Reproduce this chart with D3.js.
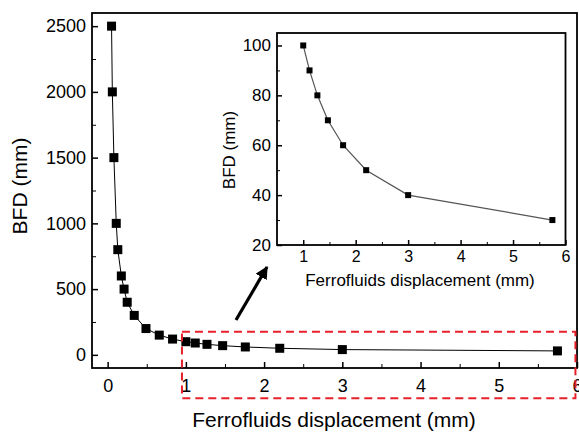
<!DOCTYPE html>
<html>
<head>
<meta charset="utf-8">
<script src="https://cdn.jsdelivr.net/npm/d3@7"></script>
<style>
  body { margin: 0; background: #fff; }
  svg { display: block; font-family: "Liberation Sans", Arial, sans-serif; }
</style>
</head>
<body>
<div id="chart"></div>
<script>
// main curve: ferrofluids displacement (mm) vs BFD (mm)
let displacement = [0.05, 0.06, 0.08, 0.11, 0.13, 0.175, 0.21, 0.25, 0.34, 0.49, 0.66, 0.83, 1.0, 1.12, 1.27, 1.47, 1.76, 2.2, 3.0, 5.75];
let bfd = [2500, 2000, 1500, 1000, 800, 600, 500, 400, 300, 200, 150, 120, 100, 90, 80, 70, 60, 50, 40, 30];

// inset: zoom on the tail
let insetDisp = [1.0, 1.12, 1.27, 1.47, 1.76, 2.2, 3.0, 5.75];
let insetBfd = [100, 90, 80, 70, 60, 50, 40, 30];

let mainXTicks = [0, 1, 2, 3, 4, 5, 6];
let mainYTicks = [0, 500, 1000, 1500, 2000, 2500];
let insetXTicks = [1, 2, 3, 4, 5, 6];
let insetYTicks = [20, 40, 60, 80, 100];

let width = 579, height = 432;

const svg = d3.select("#chart").append("svg")
    .attr("width", width)
    .attr("height", height);

// scales
let x = d3.scaleLinear().domain([-0.2, 6.0]).range([92, 577]);
let y = d3.scaleLinear().domain([-100, 2600]).range([368, 13]);
let xi = d3.scaleLinear().domain([0.5, 6]).range([277, 565.5]);
let yi = d3.scaleLinear().domain([20, 105]).range([245, 33]);

// --- main plot ---
svg.append("rect")
    .attr("x", x.range()[0]).attr("y", y.range()[1])
    .attr("width", x.range()[1] - x.range()[0])
    .attr("height", y.range()[0] - y.range()[1])
    .attr("fill", "none").attr("stroke", "#000").attr("stroke-width", 1.8);

// minor ticks first, then major ticks with labels
svg.append("g")
    .attr("transform", `translate(0,${y.range()[0]})`)
    .call(d3.axisTop(x).tickValues(d3.range(0.5, 6, 1)).tickSize(4).tickFormat(""))
    .call(g => g.select(".domain").remove());
svg.append("g")
    .attr("transform", `translate(${x.range()[0]},0)`)
    .call(d3.axisRight(y).tickValues(d3.range(250, 2600, 500)).tickSize(4).tickFormat(""))
    .call(g => g.select(".domain").remove());

const gx = svg.append("g")
    .attr("transform", `translate(0,${y.range()[0]})`)
    .call(d3.axisBottom(x).tickValues(mainXTicks).tickSize(0).tickPadding(11).tickFormat(d3.format("d")));
gx.select(".domain").remove();
gx.selectAll("text").attr("font-size", 18).attr("font-family", null).attr("fill", "#000");
svg.append("g")
    .attr("transform", `translate(0,${y.range()[0]})`)
    .call(d3.axisTop(x).tickValues(mainXTicks).tickSize(6).tickFormat(""))
    .call(g => g.select(".domain").remove())
    .selectAll("line").attr("stroke-width", 1.5);

const gy = svg.append("g")
    .attr("transform", `translate(${x.range()[0]},0)`)
    .call(d3.axisLeft(y).tickValues(mainYTicks).tickSize(0).tickPadding(6).tickFormat(d3.format("d")));
gy.select(".domain").remove();
gy.selectAll("text").attr("font-size", 18).attr("font-family", null).attr("fill", "#000");
svg.append("g")
    .attr("transform", `translate(${x.range()[0]},0)`)
    .call(d3.axisRight(y).tickValues(mainYTicks).tickSize(6).tickFormat(""))
    .call(g => g.select(".domain").remove())
    .selectAll("line").attr("stroke-width", 1.5);

let mainPts = displacement.map((d, i) => [d, bfd[i]]);

svg.append("path")
    .datum(mainPts)
    .attr("fill", "none")
    .attr("stroke", "#000")
    .attr("stroke-width", 1)
    .attr("d", d3.line().x(d => x(d[0])).y(d => y(d[1])));

svg.append("g").selectAll("rect")
    .data(mainPts)
    .join("rect")
    .attr("x", d => x(d[0]) - 4.5)
    .attr("y", d => y(d[1]) - 4.5)
    .attr("width", 9).attr("height", 9)
    .attr("fill", "#000");

svg.append("text")
    .attr("x", 334).attr("y", 427)
    .attr("text-anchor", "middle")
    .attr("font-size", 21)
    .text("Ferrofluids displacement (mm)");

svg.append("text")
    .attr("transform", "translate(27,186) rotate(-90)")
    .attr("text-anchor", "middle")
    .attr("font-size", 21)
    .text("BFD (mm)");

// --- inset ---
svg.append("rect")
    .attr("x", xi.range()[0]).attr("y", yi.range()[1])
    .attr("width", xi.range()[1] - xi.range()[0])
    .attr("height", yi.range()[0] - yi.range()[1])
    .attr("fill", "#fff").attr("stroke", "#000").attr("stroke-width", 1.8);

svg.append("g")
    .attr("transform", `translate(0,${yi.range()[0]})`)
    .call(d3.axisTop(xi).tickValues(d3.range(1.5, 6, 1)).tickSize(3).tickFormat(""))
    .call(g => g.select(".domain").remove());
svg.append("g")
    .attr("transform", `translate(${xi.range()[0]},0)`)
    .call(d3.axisRight(yi).tickValues(d3.range(30, 105, 20)).tickSize(3).tickFormat(""))
    .call(g => g.select(".domain").remove());

const gxi = svg.append("g")
    .attr("transform", `translate(0,${yi.range()[0]})`)
    .call(d3.axisTop(xi).tickValues(insetXTicks).tickSize(5).tickFormat(""));
gxi.select(".domain").remove();
gxi.selectAll("line").attr("stroke-width", 1.5);
const gxiL = svg.append("g")
    .attr("transform", `translate(0,${yi.range()[0]})`)
    .call(d3.axisBottom(xi).tickValues(insetXTicks).tickSize(0).tickPadding(6).tickFormat(d3.format("d")));
gxiL.select(".domain").remove();
gxiL.selectAll("text").attr("font-size", 16).attr("font-family", null).attr("fill", "#000");

const gyi = svg.append("g")
    .attr("transform", `translate(${xi.range()[0]},0)`)
    .call(d3.axisRight(yi).tickValues(insetYTicks).tickSize(5).tickFormat(""));
gyi.select(".domain").remove();
gyi.selectAll("line").attr("stroke-width", 1.5);
const gyiL = svg.append("g")
    .attr("transform", `translate(${xi.range()[0]},0)`)
    .call(d3.axisLeft(yi).tickValues(insetYTicks).tickSize(0).tickPadding(6));
gyiL.select(".domain").remove();
gyiL.selectAll("text").attr("font-size", 17).attr("font-family", null).attr("fill", "#000");

let insetPts = insetDisp.map((d, i) => [d, insetBfd[i]]);

svg.append("path")
    .datum(insetPts)
    .attr("fill", "none")
    .attr("stroke", "#555")
    .attr("stroke-width", 1.2)
    .attr("d", d3.line().x(d => xi(d[0])).y(d => yi(d[1])));

svg.append("g").selectAll("rect")
    .data(insetPts)
    .join("rect")
    .attr("x", d => xi(d[0]) - 3)
    .attr("y", d => yi(d[1]) - 3)
    .attr("width", 6).attr("height", 6)
    .attr("fill", "#000");

svg.append("text")
    .attr("x", 420).attr("y", 286)
    .attr("text-anchor", "middle")
    .attr("font-size", 17)
    .text("Ferrofluids displacement (mm)");

svg.append("text")
    .attr("transform", "translate(235,150) rotate(-90)")
    .attr("text-anchor", "middle")
    .attr("font-size", 17)
    .text("BFD (mm)");

// --- annotation: red dashed box on the tail and arrow to inset ---
let boxX = [0.95, 5.98];
let boxY = [175, -330];
svg.append("rect")
    .attr("x", x(boxX[0])).attr("y", y(boxY[0]))
    .attr("width", x(boxX[1]) - x(boxX[0]))
    .attr("height", y(boxY[1]) - y(boxY[0]))
    .attr("fill", "none")
    .attr("stroke", "#e8202a")
    .attr("stroke-width", 2)
    .attr("stroke-dasharray", "8,5");

svg.append("defs").append("marker")
    .attr("id", "head")
    .attr("viewBox", "0 0 10 10")
    .attr("refX", 9).attr("refY", 5)
    .attr("markerWidth", 4).attr("markerHeight", 4)
    .attr("orient", "auto")
  .append("path")
    .attr("d", "M0,0L10,5L0,10z")
    .attr("fill", "#000");

svg.append("line")
    .attr("x1", 236).attr("y1", 320)
    .attr("x2", 267).attr("y2", 267)
    .attr("stroke", "#000")
    .attr("stroke-width", 3.2)
    .attr("marker-end", "url(#head)");
</script>
</body>
</html>
